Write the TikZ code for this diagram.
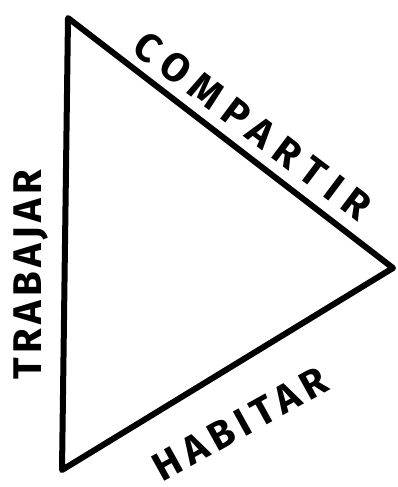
\documentclass[tikz,border=0pt]{standalone}
\usepackage{fontspec}
\setmainfont{Fira Sans}
\usetikzlibrary{positioning}

\begin{document}
\begin{tikzpicture}[
    x=1pt, y=-1pt,
    edge/.style={line width=6pt, line join=round, line cap=round},
    word/.style={inner sep=0pt, font=\fontsize{40}{40}\selectfont\bfseries}
]
    \useasboundingbox (0,0) rectangle (398,487);

    \coordinate (top) at (68,18);
    \coordinate (tip) at (393,268);
    \coordinate (low) at (62,470);

    \draw[edge] (top) -- (tip) -- (low) -- cycle;

    \node[word, rotate=-37] (share) at (253,126) {\addfontfeatures{LetterSpace=24}COMPARTIR};
    \node[word, rotate=90] (work) at (31,275) {\addfontfeatures{LetterSpace=11}TRABAJAR};
    \node[word, rotate=29] (live) at (240,424) {\addfontfeatures{LetterSpace=16}HABITAR};
\end{tikzpicture}
\end{document}
